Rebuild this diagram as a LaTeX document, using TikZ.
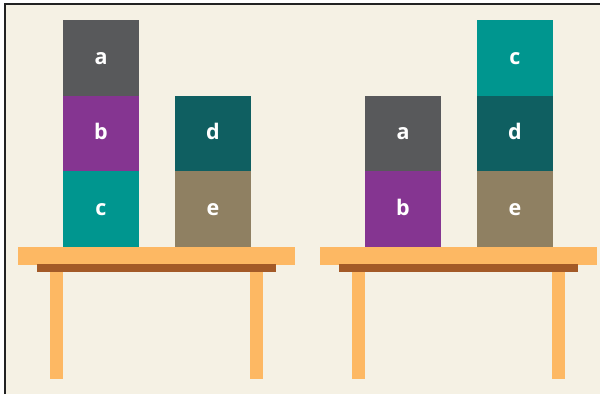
\documentclass[tikz,border=0pt]{standalone}
\usepackage{fontspec}
\newfontfamily\blockfont{Open Sans}
\usetikzlibrary{positioning}

\definecolor{bgcream}{HTML}{F5F1E4}
\definecolor{frameline}{HTML}{222222}
\definecolor{blockgrey}{HTML}{58595B}
\definecolor{blockpurple}{HTML}{853591}
\definecolor{blockteal}{HTML}{00968F}
\definecolor{blockdarkteal}{HTML}{0F5F61}
\definecolor{blockkhaki}{HTML}{8F8062}
\definecolor{tableorange}{HTML}{FDB863}
\definecolor{tablebrown}{HTML}{A35A27}

\begin{document}
\begin{tikzpicture}[
    x=1pt, y=-1pt,
    node distance=0pt and 36pt,
    block/.style={minimum width=76pt, minimum height=75.7pt, inner sep=0pt, outer sep=0pt,
        text height=12.5pt, text depth=0pt, text=white,
        font=\blockfont\bfseries\fontsize{21.5}{24}\selectfont}
]
\useasboundingbox (0,0) rectangle (600,394);
\fill[white] (0,0) rectangle (600,394);
\fill[bgcream] (5,4) rectangle (600,394);
\draw[frameline, line width=1.2pt] (5,394) -- (5,4) -- (600,4);

% the two tables
\foreach \dx in {0,302} {
    \fill[tableorange] (18+\dx,247) rectangle (295+\dx,265);
    \fill[tablebrown] (37+\dx,264) rectangle (276+\dx,272);
    \fill[tableorange] (50+\dx,272) rectangle (63+\dx,379);
    \fill[tableorange] (250+\dx,272) rectangle (263+\dx,379);
}

% left table
\node[block, fill=blockteal, anchor=south] (c1) at (101,247) {c};
\node[block, fill=blockpurple, above=of c1] (b1) {b};
\node[block, fill=blockgrey, above=of b1] (a1) {a};
\node[block, fill=blockkhaki, right=of c1] (e1) {e};
\node[block, fill=blockdarkteal, above=of e1] (d1) {d};

% right table
\node[block, fill=blockpurple, anchor=south] (b2) at (403,247) {b};
\node[block, fill=blockgrey, above=of b2] (a2) {a};
\node[block, fill=blockkhaki, right=of b2] (e2) {e};
\node[block, fill=blockdarkteal, above=of e2] (d2) {d};
\node[block, fill=blockteal, above=of d2] (c2) {c};
\end{tikzpicture}
\end{document}
